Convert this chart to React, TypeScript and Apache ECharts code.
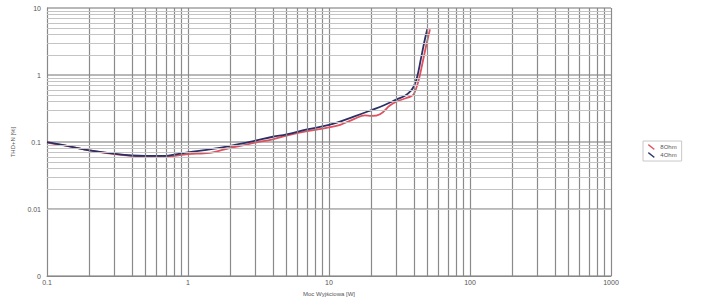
import React, { useEffect, useRef } from "react";
import * as echarts from "echarts";

const xTickLabels = ["0.1", "1", "10", "100", "1000"];
const yTickLabels = ["0", "0.01", "0.1", "1", "10"];

const seriesNames = ["8Ohm", "4Ohm"];

const red8X = [0.1, 0.15, 0.2, 0.3, 0.4, 0.5, 0.7, 0.8, 1, 1.3, 1.5, 2, 2.5, 3, 4, 5, 7, 10, 12, 15, 18, 20, 23, 27, 30, 35, 38, 40, 43, 46, 49, 52];
const red8Y = [0.098, 0.085, 0.075, 0.066, 0.062, 0.061, 0.06, 0.062, 0.066, 0.068, 0.07, 0.082, 0.09, 0.098, 0.11, 0.125, 0.145, 0.165, 0.18, 0.22, 0.25, 0.245, 0.26, 0.35, 0.4, 0.45, 0.48, 0.52, 0.8, 1.5, 2.8, 4.8];

const blue4X = [0.1, 0.15, 0.2, 0.3, 0.4, 0.5, 0.7, 0.8, 1, 1.5, 2, 3, 4, 5, 7, 10, 15, 20, 25, 30, 35, 38, 40, 42, 45, 48, 50];
const blue4Y = [0.1, 0.085, 0.075, 0.067, 0.063, 0.062, 0.062, 0.065, 0.07, 0.079, 0.088, 0.105, 0.12, 0.13, 0.155, 0.18, 0.24, 0.3, 0.36, 0.43, 0.5, 0.58, 0.68, 0.9, 1.8, 3.5, 5];

const decadesX = [0.1, 1, 10, 100];
const decadesY = [0.001, 0.01, 0.1, 1];
const minorMult = [2, 3, 4, 5, 6, 7, 8, 9];

const FONT = "Liberation Sans, Arial, sans-serif";

export default function App() {
  const ref = useRef<HTMLDivElement>(null);
  useEffect(() => {
    if (!ref.current) return;
    const chart = echarts.init(ref.current, undefined, { renderer: "svg" });
    const minorX: any[] = [];
    decadesX.forEach((d) => minorMult.forEach((m) => minorX.push({ xAxis: d * m })));
    const minorY: any[] = [];
    decadesY.forEach((d) => minorMult.forEach((m) => minorY.push({ yAxis: d * m })));
    const zip = (xs: number[], ys: number[]) => xs.map((x, i) => [x, ys[i]]);
    const labelFor = (labels: string[], minExp: number) => (v: number) => {
      const e = Math.round(Math.log10(v));
      return labels[e - minExp] ?? "";
    };
    chart.setOption({
      animation: false,
      textStyle: { fontFamily: FONT },
      grid: { left: 47, right: 94, top: 8, bottom: 24 },
      legend: {
        orient: "vertical",
        left: 643,
        top: 141,
        data: seriesNames,
        icon: "path://M0,0 L10,8 L9,10 L-1,2 Z",
        itemWidth: 8,
        itemHeight: 6,
        itemGap: 2,
        padding: [3, 5, 3, 5],
        borderColor: "#c8c8c8",
        borderWidth: 1,
        textStyle: { fontSize: 6, color: "#555", fontFamily: FONT },
      },
      xAxis: {
        type: "log",
        logBase: 10,
        min: 0.1,
        max: 1000,
        name: "Moc Wyjściowa [W]",
        nameLocation: "middle",
        nameGap: 12,
        nameTextStyle: { fontSize: 6, color: "#555" },
        axisLine: { lineStyle: { color: "#888" } },
        axisTick: { show: false },
        axisLabel: { fontSize: 7, color: "#555", margin: 3, formatter: labelFor(xTickLabels, -1) },
        splitLine: { show: true, lineStyle: { color: "#8a8a8a", width: 1.2 } },
      },
      yAxis: {
        type: "log",
        logBase: 10,
        min: 0.001,
        max: 10,
        name: "THD+N [%]",
        nameLocation: "middle",
        nameGap: 27,
        nameRotate: 90,
        nameTextStyle: { fontSize: 6, color: "#555" },
        axisLine: { show: true, lineStyle: { color: "#888" } },
        axisTick: { show: false },
        axisLabel: { fontSize: 7, color: "#555", margin: 6, formatter: labelFor(yTickLabels, -3) },
        splitLine: { show: true, lineStyle: { color: "#b8b8b8", width: 2 } },
      },
      series: [
        {
          name: "grid",
          type: "line",
          data: [],
          silent: true,
          z: 1,
          markLine: {
            silent: true,
            symbol: ["none", "none"],
            label: { show: false },
            animation: false,
            data: [
              ...minorX.map((d) => ({ ...d, lineStyle: { color: "#8a8a8a", width: 1.2, type: "solid" } })),
              ...minorY.map((d) => ({ ...d, lineStyle: { color: "#c4c4c4", width: 1, type: "solid" } })),
            ],
          },
        },
        {
          name: seriesNames[0],
          type: "line",
          data: zip(red8X, red8Y),
          smooth: 0.4,
          showSymbol: false,
          z: 3,
          color: "#e0505e",
          lineStyle: { width: 1.8, color: "#e0505e" },
        },
        {
          name: seriesNames[1],
          type: "line",
          data: zip(blue4X, blue4Y),
          smooth: 0.4,
          showSymbol: false,
          z: 4,
          color: "#2c2f66",
          lineStyle: { width: 1.8, color: "#2c2f66" },
        },
      ],
    });
    return () => chart.dispose();
  }, []);
  return <div ref={ref} style={{ width: 705, height: 302, position: "absolute", left: 0, top: 0 }} />;
}
